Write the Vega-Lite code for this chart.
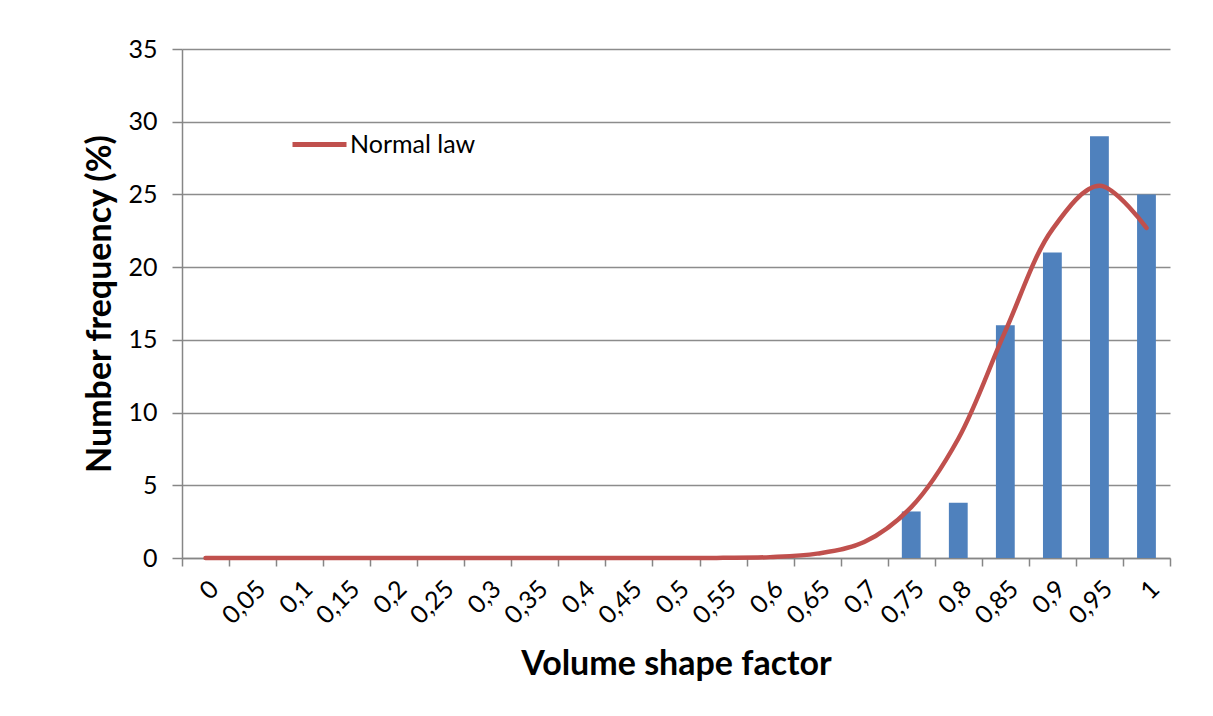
{
  "$schema": "https://vega.github.io/schema/vega-lite/v6.json",
  "width": 988,
  "height": 509,
  "autosize": {"type": "none"},
  "padding": {"left": 182, "top": 49, "right": 43, "bottom": 158},
  "background": "white",
  "config": {
    "view": {"stroke": null},
    "font": "Lato",
    "axis": {
      "labelFont": "Lato",
      "titleFont": "Lato",
      "labelColor": "#000000",
      "titleColor": "#000000",
      "domainColor": "#868686",
      "tickColor": "#868686",
      "gridColor": "#8C8C8C",
      "domainWidth": 1.5,
      "tickWidth": 1.5,
      "gridWidth": 1.5
    }
  },
  "datasets": {
    "bars": [
      {"factor": "0", "freq": 0},
      {"factor": "0,05", "freq": 0},
      {"factor": "0,1", "freq": 0},
      {"factor": "0,15", "freq": 0},
      {"factor": "0,2", "freq": 0},
      {"factor": "0,25", "freq": 0},
      {"factor": "0,3", "freq": 0},
      {"factor": "0,35", "freq": 0},
      {"factor": "0,4", "freq": 0},
      {"factor": "0,45", "freq": 0},
      {"factor": "0,5", "freq": 0},
      {"factor": "0,55", "freq": 0},
      {"factor": "0,6", "freq": 0},
      {"factor": "0,65", "freq": 0},
      {"factor": "0,7", "freq": 0},
      {"factor": "0,75", "freq": 3.2},
      {"factor": "0,8", "freq": 3.8},
      {"factor": "0,85", "freq": 16},
      {"factor": "0,9", "freq": 21},
      {"factor": "0,95", "freq": 29},
      {"factor": "1", "freq": 25}
    ],
    "normal": [
      {"factor": "0", "value": 0, "series": "Normal law"},
      {"factor": "0,05", "value": 0, "series": "Normal law"},
      {"factor": "0,1", "value": 0, "series": "Normal law"},
      {"factor": "0,15", "value": 0, "series": "Normal law"},
      {"factor": "0,2", "value": 0, "series": "Normal law"},
      {"factor": "0,25", "value": 0, "series": "Normal law"},
      {"factor": "0,3", "value": 0, "series": "Normal law"},
      {"factor": "0,35", "value": 0, "series": "Normal law"},
      {"factor": "0,4", "value": 0, "series": "Normal law"},
      {"factor": "0,45", "value": 0, "series": "Normal law"},
      {"factor": "0,5", "value": 0.001, "series": "Normal law"},
      {"factor": "0,55", "value": 0.01, "series": "Normal law"},
      {"factor": "0,6", "value": 0.06, "series": "Normal law"},
      {"factor": "0,65", "value": 0.3, "series": "Normal law"},
      {"factor": "0,7", "value": 1.1, "series": "Normal law"},
      {"factor": "0,75", "value": 3.5, "series": "Normal law"},
      {"factor": "0,8", "value": 8.2, "series": "Normal law"},
      {"factor": "0,85", "value": 15.6, "series": "Normal law"},
      {"factor": "0,9", "value": 22.6, "series": "Normal law"},
      {"factor": "0,95", "value": 25.6, "series": "Normal law"},
      {"factor": "1", "value": 22.7, "series": "Normal law"}
    ]
  },
  "layer": [
    {
      "data": {"name": "bars"},
      "mark": {"type": "bar", "color": "#4F81BD", "width": {"band": 0.4}},
      "encoding": {
        "x": {
          "field": "factor",
          "type": "ordinal",
          "sort": null,
          "scale": {"paddingInner": 0, "paddingOuter": 0},
          "axis": {
            "title": "Volume shape factor",
            "titleFontSize": 34,
            "titleFontWeight": "bold",
            "titlePadding": 19,
            "labelAngle": -45,
            "labelFontSize": 25,
            "labelPadding": 10,
            "tickSize": 8,
            "tickBand": "extent",
            "grid": false
          }
        },
        "y": {
          "field": "freq",
          "type": "quantitative",
          "scale": {"domain": [0, 35], "nice": false},
          "axis": {
            "title": "Number frequency (%)",
            "titleFontSize": 34,
            "titleFontWeight": "bold",
            "titlePadding": 10,
            "values": [0, 5, 10, 15, 20, 25, 30, 35],
            "labelFontSize": 25,
            "labelPadding": 15,
            "tickSize": 10,
            "grid": true
          }
        }
      }
    },
    {
      "data": {"name": "normal"},
      "mark": {"type": "line", "interpolate": "catmull-rom", "strokeWidth": 4.5, "strokeCap": "round"},
      "encoding": {
        "x": {"field": "factor", "type": "ordinal", "sort": null},
        "y": {"field": "value", "type": "quantitative"},
        "color": {
          "field": "series",
          "type": "nominal",
          "scale": {"range": ["#C0504D"]},
          "legend": {
            "title": null,
            "orient": "none",
            "legendX": 108,
            "legendY": 66,
            "padding": 0,
            "symbolType": "stroke",
            "symbolSize": 2916,
            "symbolStrokeWidth": 5,
            "labelFont": "Lato",
            "labelFontSize": 25,
            "labelColor": "#000000",
            "labelOffset": 1
          }
        }
      }
    }
  ]
}
